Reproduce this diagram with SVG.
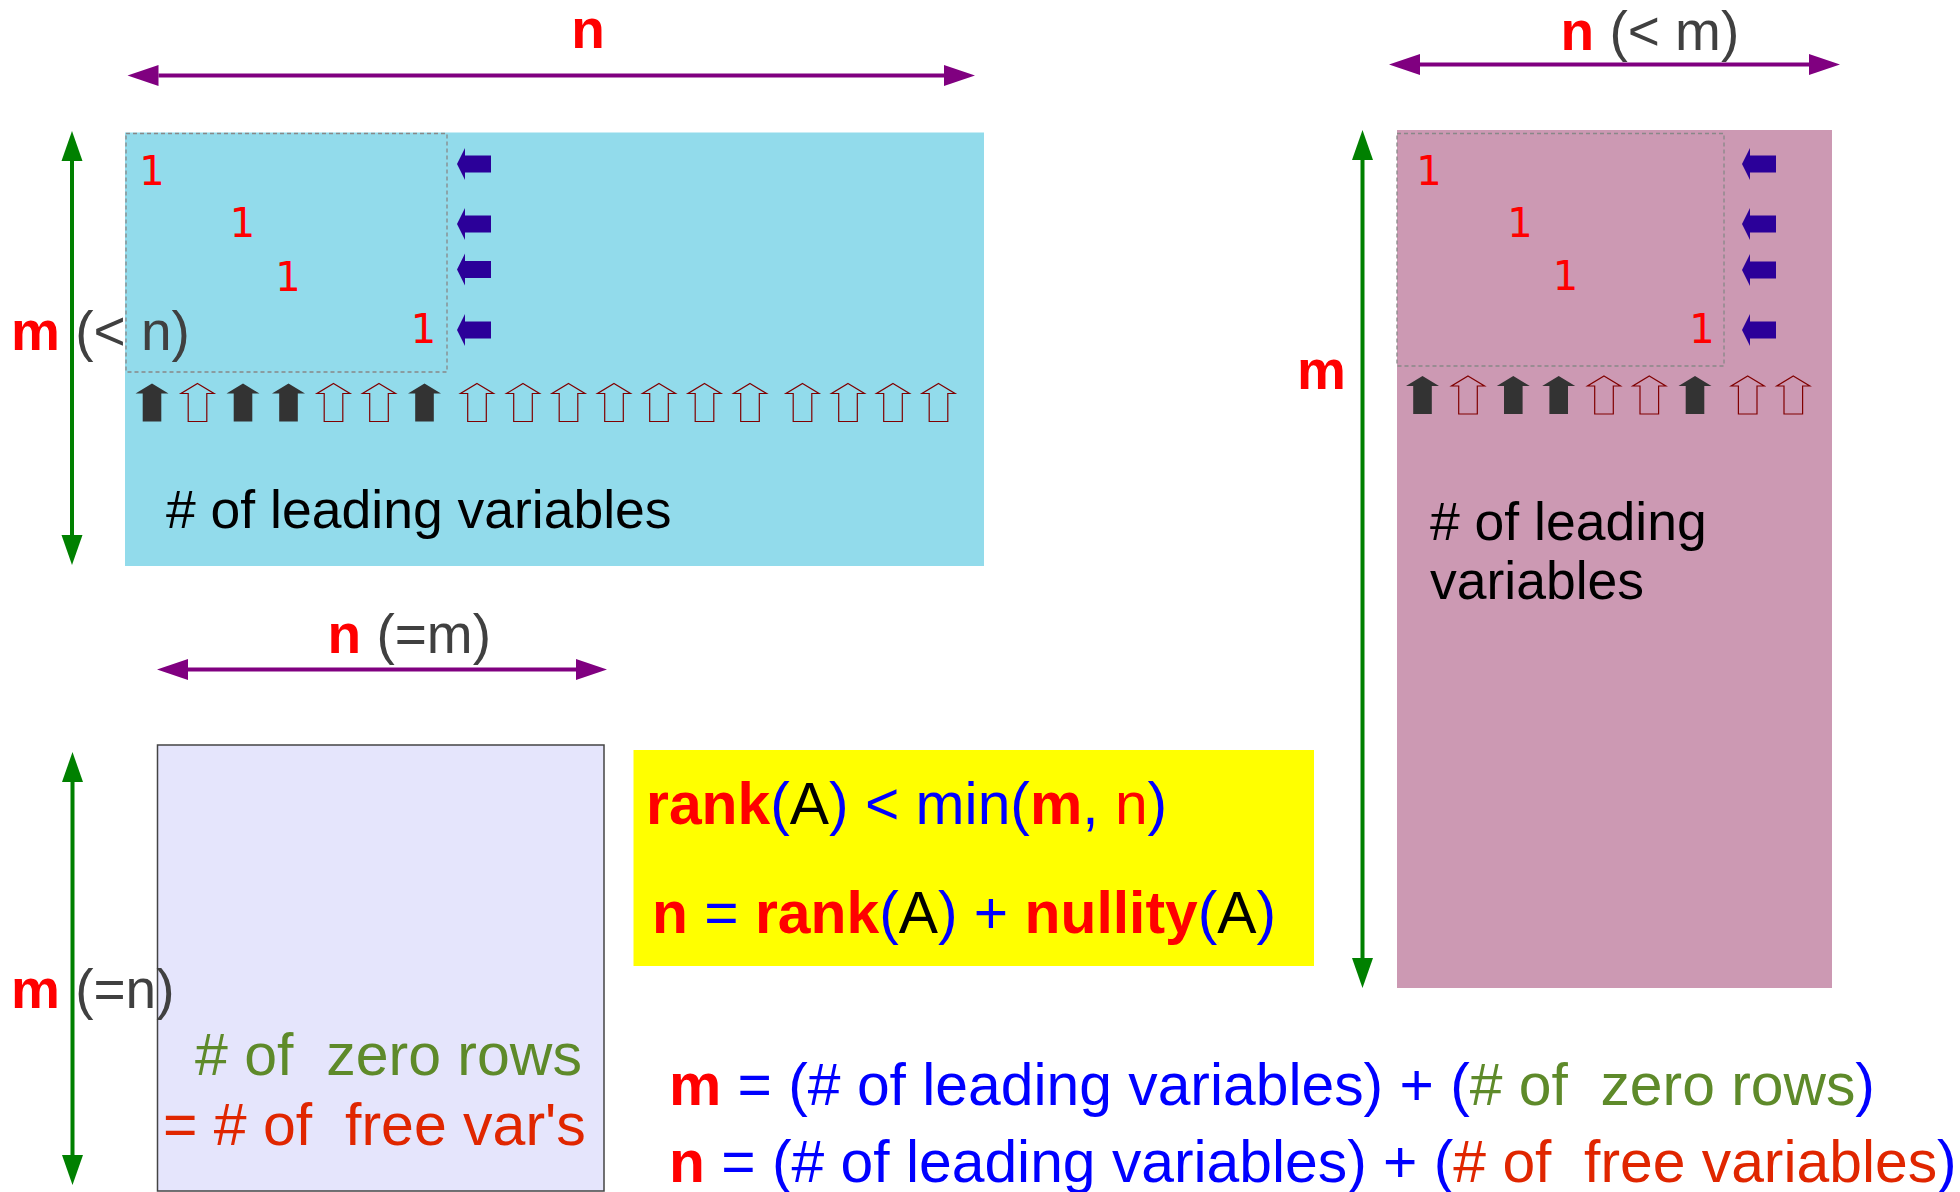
<svg xmlns="http://www.w3.org/2000/svg" width="1960" height="1192" viewBox="0 0 1960 1192">
<style>
  text { font-family: "Liberation Sans", Arial, sans-serif; }
  .b { font-weight: bold; }
  .red { fill: #ff0000; }
  .blue { fill: #0000ff; }
  .gray { fill: #404040; }
  .blk { fill: #000000; }
  .grn { fill: #5e8a2a; }
  .fr { fill: #e02600; }
  .one { font-family: "DejaVu Sans", sans-serif; font-size: 40px; fill: #ff0000; text-anchor: middle; }
  .lbl { font-size: 55px; }
  .dash { fill: none; stroke: #888888; stroke-width: 1.3; stroke-dasharray: 4 3; }
  .pl { stroke: #800080; stroke-width: 4; fill: none; marker-start: url(#hp); marker-end: url(#hp); }
  .gl { stroke: #008000; stroke-width: 4; fill: none; marker-start: url(#hg); marker-end: url(#hg); }
  .upf { fill: #333333; }
  .upo { fill: none; stroke: #800000; stroke-width: 1.2; }
  .la { fill: #2b0099; }
</style>
<defs>
  <marker id="hp" markerUnits="userSpaceOnUse" markerWidth="32" markerHeight="22" refX="0" refY="10.5" orient="auto-start-reverse" viewBox="0 0 32 21">
    <path d="M0,0 L31,10.5 L0,21 Z" fill="#800080"/>
  </marker>
  <marker id="hg" markerUnits="userSpaceOnUse" markerWidth="31" markerHeight="22" refX="0" refY="10.5" orient="auto-start-reverse" viewBox="0 0 31 21">
    <path d="M0,0 L30,10.5 L0,21 Z" fill="#008000"/>
  </marker>
  <path id="up" d="M0,0 L16.5,10 L9.3,10 L9.3,38 L-9.3,38 L-9.3,10 L-16.5,10 Z"/>
  <path id="left" d="M0,0 L8,-16 L8,-8.6 L34,-8.6 L34,8.6 L8,8.6 L8,16 Z"/>
</defs>

<g id="matrix-wide">
  <rect x="125" y="132.5" width="859" height="433.5" fill="#92dbeb"/>
  <rect class="dash" x="126" y="133.5" width="321" height="238.5"/>
  <text class="one" x="152" y="185">1</text>
  <text class="one" x="242.5" y="237">1</text>
  <text class="one" x="288" y="291">1</text>
  <text class="one" x="423.5" y="343">1</text>
  <use href="#left" class="la" x="457" y="164"/>
  <use href="#left" class="la" x="457" y="224"/>
  <use href="#left" class="la" x="457" y="269.5"/>
  <use href="#left" class="la" x="457" y="330"/>
  <use href="#up" class="upf" x="152" y="383.5"/>
  <use href="#up" class="upo" x="197.5" y="383.5"/>
  <use href="#up" class="upf" x="243" y="383.5"/>
  <use href="#up" class="upf" x="288.5" y="383.5"/>
  <use href="#up" class="upo" x="333.5" y="383.5"/>
  <use href="#up" class="upo" x="379" y="383.5"/>
  <use href="#up" class="upf" x="424.5" y="383.5"/>
  <use href="#up" class="upo" x="477" y="383.5"/>
  <use href="#up" class="upo" x="523" y="383.5"/>
  <use href="#up" class="upo" x="568.5" y="383.5"/>
  <use href="#up" class="upo" x="614" y="383.5"/>
  <use href="#up" class="upo" x="659" y="383.5"/>
  <use href="#up" class="upo" x="704.5" y="383.5"/>
  <use href="#up" class="upo" x="750" y="383.5"/>
  <use href="#up" class="upo" x="802.5" y="383.5"/>
  <use href="#up" class="upo" x="848" y="383.5"/>
  <use href="#up" class="upo" x="893" y="383.5"/>
  <use href="#up" class="upo" x="938.5" y="383.5"/>
  <text x="166" y="528" font-size="53.5" class="blk"># of leading variables</text>
</g>

<g id="matrix-tall">
  <rect x="1397" y="130" width="435" height="858" fill="#cc99b3"/>
  <rect class="dash" x="1397" y="133.5" width="327" height="232.5"/>
  <text class="one" x="1429" y="185">1</text>
  <text class="one" x="1520" y="237">1</text>
  <text class="one" x="1565.5" y="290">1</text>
  <text class="one" x="1702" y="343">1</text>
  <use href="#left" class="la" x="1742" y="164"/>
  <use href="#left" class="la" x="1742" y="224"/>
  <use href="#left" class="la" x="1742" y="270"/>
  <use href="#left" class="la" x="1742" y="330"/>
  <use href="#up" class="upf" x="1422.5" y="376"/>
  <use href="#up" class="upo" x="1468" y="376"/>
  <use href="#up" class="upf" x="1513.3" y="376"/>
  <use href="#up" class="upf" x="1558.7" y="376"/>
  <use href="#up" class="upo" x="1604" y="376"/>
  <use href="#up" class="upo" x="1649.3" y="376"/>
  <use href="#up" class="upf" x="1695" y="376"/>
  <use href="#up" class="upo" x="1747.7" y="376"/>
  <use href="#up" class="upo" x="1793.3" y="376"/>
  <text x="1430" y="540" font-size="53.5" class="blk"># of leading</text>
  <text x="1430" y="599" font-size="53.5" class="blk">variables</text>
</g>

<g id="matrix-square">
  <rect x="157.5" y="745" width="446.5" height="446" fill="#e5e5fc" stroke="#444444" stroke-width="1.5"/>
  <text x="195" y="1075" font-size="59" class="grn" xml:space="preserve"># of  zero rows</text>
  <text x="163" y="1145" font-size="59" class="fr" xml:space="preserve">= # of  free var's</text>
</g>

<g id="formula-box">
  <rect x="633.5" y="750" width="680.5" height="216" fill="#ffff00"/>
  <text x="646" y="824" font-size="58.8"><tspan class="b red">rank</tspan><tspan class="blue">(</tspan><tspan class="blk">A</tspan><tspan class="blue">) &lt; min(</tspan><tspan class="b red">m</tspan><tspan class="blue">,</tspan><tspan class="red"> n</tspan><tspan class="blue">)</tspan></text>
  <text x="652" y="933" font-size="58.8"><tspan class="b red">n</tspan><tspan class="blue"> = </tspan><tspan class="b red">rank</tspan><tspan class="blue">(</tspan><tspan class="blk">A</tspan><tspan class="blue">) + </tspan><tspan class="b red">nullity</tspan><tspan class="blue">(</tspan><tspan class="blk">A</tspan><tspan class="blue">)</tspan></text>
</g>

<g id="equations">
  <text x="669" y="1105" font-size="58.8" xml:space="preserve"><tspan class="b red">m</tspan><tspan class="blue"> = (# of leading variables) + (</tspan><tspan class="grn"># of  zero rows</tspan><tspan class="blue">)</tspan></text>
  <text x="669" y="1182" font-size="58.8" xml:space="preserve"><tspan class="b red">n</tspan><tspan class="blue"> = (# of leading variables) + (</tspan><tspan class="fr"># of  free variables</tspan><tspan class="blue">)</tspan></text>
</g>

<g id="labels">
  <text x="588" y="48" font-size="55" class="b red" text-anchor="middle">n</text>
  <text x="1560.5" y="50" class="lbl"><tspan class="b red">n</tspan><tspan class="gray"> (&lt; m)</tspan></text>
  <text x="11" y="350" class="lbl"><tspan class="b red">m</tspan><tspan class="gray"> (&lt; n)</tspan></text>
  <text x="1297" y="389" class="lbl b red">m</text>
  <text x="327.5" y="653" class="lbl"><tspan class="b red">n</tspan><tspan class="gray"> (=m)</tspan></text>
  <text x="11" y="1008" class="lbl"><tspan class="b red">m</tspan><tspan class="gray"> (=n)</tspan></text>
</g>

<g id="connectors">
  <line class="pl" x1="158.5" y1="75.5" x2="944" y2="75.5"/>
  <line class="pl" x1="1420" y1="64.5" x2="1809" y2="64.5"/>
  <line class="pl" x1="188" y1="669.5" x2="576" y2="669.5"/>
  <line class="gl" x1="72" y1="161" x2="72" y2="535"/>
  <line class="gl" x1="1362.5" y1="160" x2="1362.5" y2="958"/>
  <line class="gl" x1="72.5" y1="782" x2="72.5" y2="1155"/>
</g>
</svg>
